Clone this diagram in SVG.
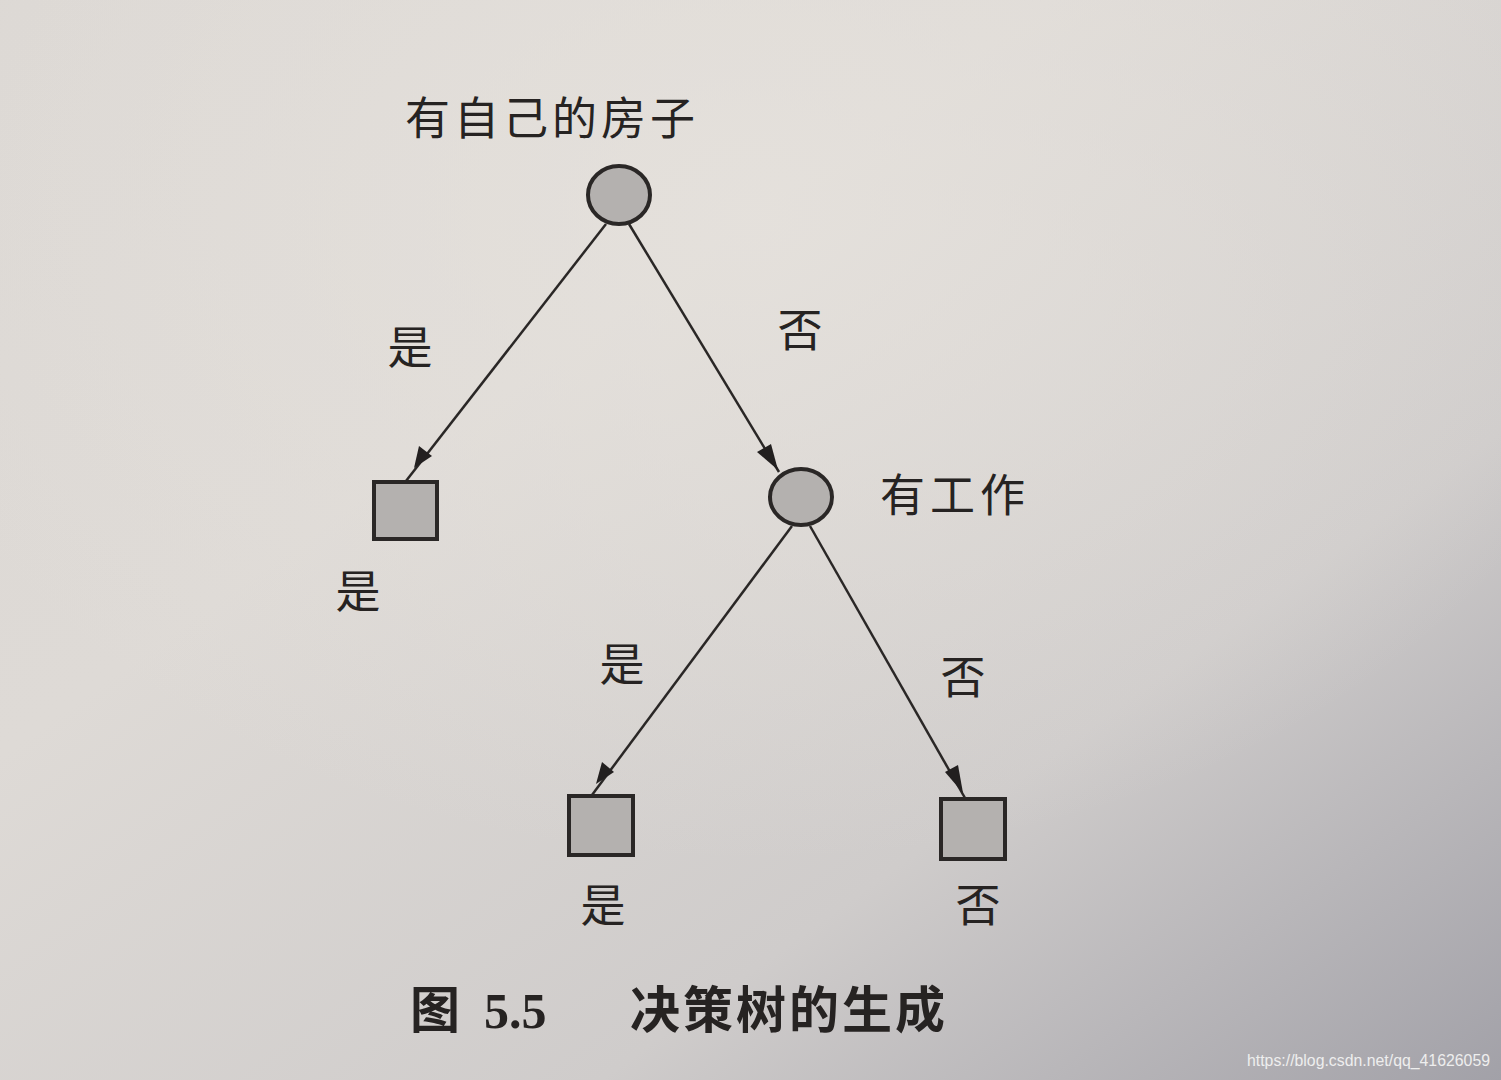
<svg xmlns="http://www.w3.org/2000/svg" width="1501" height="1080" viewBox="0 0 1501 1080">
<defs>
<linearGradient id="bg" x1="0" y1="0" x2="1" y2="1">
<stop offset="0" stop-color="#dcd8d4"/>
<stop offset="0.35" stop-color="#dedad6"/>
<stop offset="0.7" stop-color="#cfcccb"/>
<stop offset="1" stop-color="#a2a1a8"/>
</linearGradient>
<radialGradient id="hl" cx="0.5" cy="0.2" r="0.6">
<stop offset="0" stop-color="#e6e2dd" stop-opacity="0.8"/>
<stop offset="1" stop-color="#e6e2dd" stop-opacity="0"/>
</radialGradient>
<style>
.node{fill:#b4b1af;stroke:#2a2726;stroke-width:4}
.edge{stroke:#2a2726;stroke-width:2.5;fill:none}
.head{fill:#221f1f}
.t{font-family:"Liberation Serif","Noto Sans CJK SC",serif;font-size:45px;fill:#262322}
.cap{font-family:"Liberation Serif","Noto Sans CJK SC",serif;font-size:50px;font-weight:bold;fill:#262322}
.wm{font-family:"Liberation Sans",sans-serif;font-size:16px;fill:#eeeeee}
</style>
</defs>
<rect width="1501" height="1080" fill="url(#bg)"/>
<rect width="1501" height="1080" fill="url(#hl)"/>
<g id="connectors">
<line class="edge" x1="606" y1="224" x2="406" y2="481"/>
<polygon class="head" points="414,468 419,446 432,456"/>
<line class="edge" x1="629" y1="224" x2="779" y2="472"/>
<polygon class="head" points="778,470 757,452 771,444"/>
<line class="edge" x1="792" y1="526" x2="592" y2="795"/>
<polygon class="head" points="596,784 602,762 614,772"/>
<line class="edge" x1="810" y1="526" x2="965" y2="798"/>
<polygon class="head" points="963,793 945,772 958,765"/>
</g>
<g id="root">
<ellipse class="node" cx="619" cy="195" rx="31" ry="29"/>
<text class="t" x="405" y="135" letter-spacing="4">有自己的房子</text>
</g>
<g id="leaf1">
<rect class="node" x="374" y="482" width="63" height="57"/>
<text class="t" x="358" y="608" text-anchor="middle">是</text>
</g>
<g id="work">
<ellipse class="node" cx="801" cy="497" rx="31" ry="28"/>
<text class="t" x="880" y="512" letter-spacing="5">有工作</text>
</g>
<g id="leaf2">
<rect class="node" x="569" y="796" width="64" height="59"/>
<text class="t" x="603" y="922" text-anchor="middle">是</text>
</g>
<g id="leaf3">
<rect class="node" x="941" y="799" width="64" height="60"/>
<text class="t" x="978" y="922" text-anchor="middle">否</text>
</g>
<g id="labels">
<text class="t" x="410" y="364" text-anchor="middle">是</text>
<text class="t" x="800" y="347" text-anchor="middle">否</text>
<text class="t" x="622" y="681" text-anchor="middle">是</text>
<text class="t" x="963" y="694" text-anchor="middle">否</text>
</g>
<g id="caption">
<text class="cap" x="410" y="1028">图</text>
<text class="cap" x="484" y="1028">5.5</text>
<text class="cap" x="630" y="1028" letter-spacing="3">决策树的生成</text>
</g>
<text class="wm" x="1247" y="1066" textLength="243" lengthAdjust="spacingAndGlyphs">https://blog.csdn.net/qq_41626059</text>
</svg>
